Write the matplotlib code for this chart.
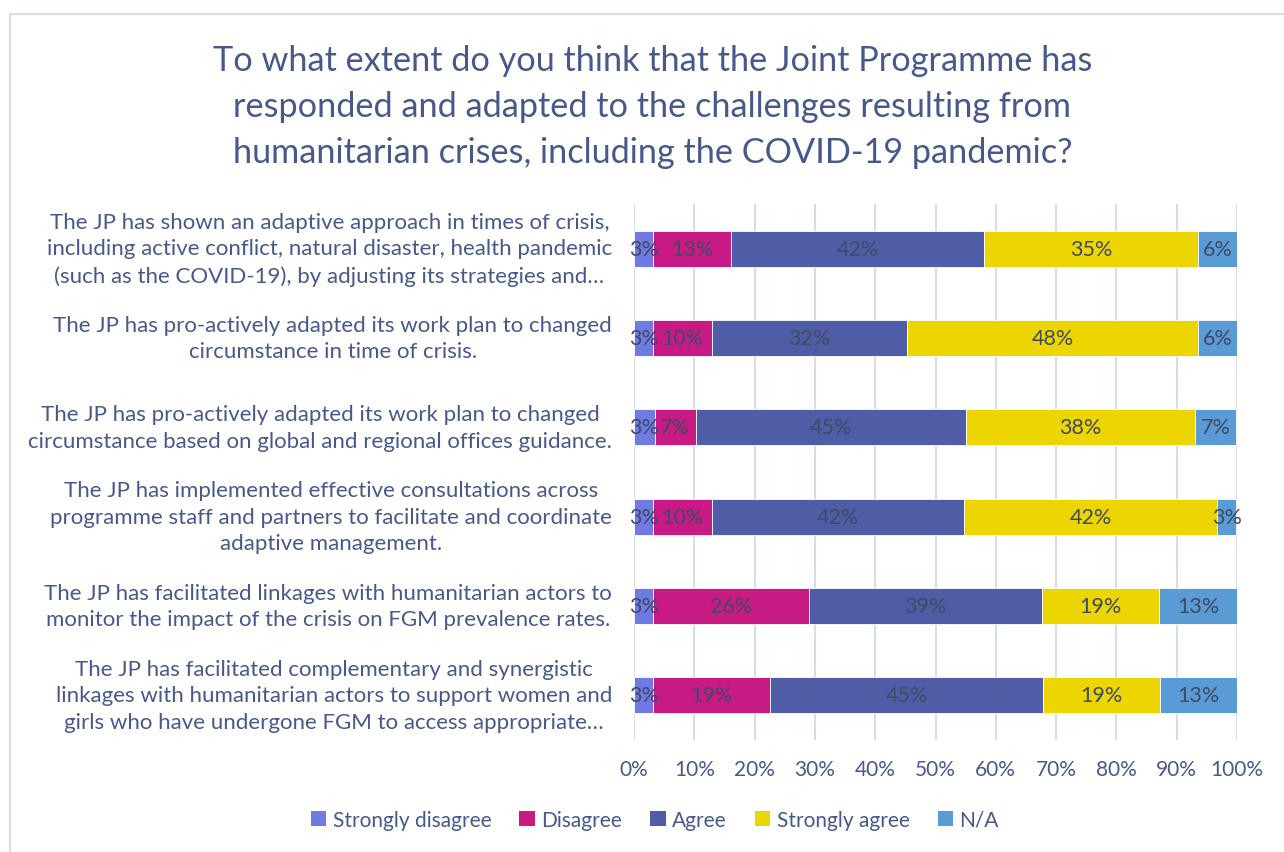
import matplotlib.pyplot as plt
import matplotlib.transforms as mtransforms
from matplotlib.patches import Patch
from matplotlib.lines import Line2D

plt.rcParams["font.family"] = ["Lato", "DejaVu Sans"]

TEXT = "#46598A"
LABEL = "#3F4A63"
GRID = "#D6DCE8"

TITLE = ("To what extent do you think that the Joint Programme has\n"
         "responded and adapted to the challenges resulting from\n"
         "humanitarian crises, including the COVID-19 pandemic?")

statements = [
    "The JP has shown an adaptive approach in times of crisis,\n"
    "including active conflict, natural disaster, health pandemic\n"
    "(such as the COVID-19), by adjusting its strategies and…",
    "The JP has pro-actively adapted its work plan to changed\n"
    "circumstance in time of crisis.",
    "The JP has pro-actively adapted its work plan to changed\n"
    "circumstance based on global and regional offices guidance.",
    "The JP has implemented effective consultations across\n"
    "programme staff and partners to facilitate and coordinate\n"
    "adaptive management.",
    "The JP has facilitated linkages with humanitarian actors to\n"
    "monitor the impact of the crisis on FGM prevalence rates.",
    "The JP has facilitated complementary and synergistic\n"
    "linkages with humanitarian actors to support women and\n"
    "girls who have undergone FGM to access appropriate…",
]

responses = ["Strongly disagree", "Disagree", "Agree", "Strongly agree", "N/A"]
colors = ["#6F7AE2", "#C71A85", "#4F5CA6", "#ECD500", "#5B9BD5"]

# share of respondents (%) per statement, one list per response
strongly_disagree = [3.2, 3.2, 3.4, 3.2, 3.2, 3.2]
disagree = [12.9, 9.7, 6.9, 9.7, 25.8, 19.4]
agree = [42.0, 32.3, 44.8, 41.9, 38.7, 45.2]
strongly_agree = [35.4, 48.4, 37.9, 41.9, 19.4, 19.4]
not_applicable = [6.5, 6.5, 6.9, 3.2, 12.9, 12.9]

series = [strongly_disagree, disagree, agree, strongly_agree, not_applicable]

fig = plt.figure(figsize=(12.84, 8.53), dpi=100)

# chart frame (top and left edges)
fig.add_artist(Line2D([10 / 1284, 1.0], [1 - 15 / 853, 1 - 15 / 853],
                      transform=fig.transFigure, color="#D9DEE6", lw=1.5))
fig.add_artist(Line2D([10 / 1284, 10 / 1284], [0.0, 1 - 15 / 853],
                      transform=fig.transFigure, color="#D9DEE6", lw=1.5))

fig.text(0.508, 1 - 107 / 853, TITLE, ha="center", va="center",
         fontsize=24.7, color=TEXT, linespacing=1.52)

ax = fig.add_axes([634 / 1284, 1 - 741 / 853, 603 / 1284, 536 / 853])

ypos = list(range(len(statements)))
left = [0.0] * len(statements)
for name, vals, col in zip(responses, series, colors):
    bars = ax.barh(ypos, vals, left=left, height=0.405, color=col,
                   edgecolor="white", linewidth=0.6, label=name, zorder=3)
    for b, v in zip(bars, vals):
        ax.text(b.get_x() + b.get_width() / 2, b.get_y() + b.get_height() / 2,
                f"{v:.0f}%", ha="center", va="center", fontsize=15.5,
                color=LABEL, zorder=4)
    left = [l + v for l, v in zip(left, vals)]

ax.set_xlim(0, 100)
ax.set_ylim(len(statements) - 0.5, -0.5)
ax.set_xticks(range(0, 101, 10))
ax.set_xticklabels([f"{t}%" for t in range(0, 101, 10)])
ax.set_yticks(ypos)
ax.set_yticklabels([])

# category labels, centred lines right-aligned to the plot area
lab_tr = mtransforms.blended_transform_factory(ax.transAxes, ax.transData)
for y, s in zip(ypos, statements):
    ax.text(-22 / 603, y, s, transform=lab_tr, ha="right", va="center",
            multialignment="center", linespacing=1.42, fontsize=16,
            color=TEXT)

ax.tick_params(axis="y", length=0)
ax.tick_params(axis="x", length=0, pad=14, labelsize=15, labelcolor=TEXT)
ax.grid(axis="x", color=GRID, linewidth=1.5, zorder=0)
for s in ax.spines.values():
    s.set_visible(False)

handles = [Patch(facecolor=c, label=n) for n, c in zip(responses, colors)]
fig.legend(handles=handles, loc="center", bbox_to_anchor=(0.51, 1 - 821 / 853),
           ncol=5, frameon=False, fontsize=15, labelcolor=TEXT,
           handlelength=0.75, handleheight=0.75, handletextpad=0.3,
           columnspacing=1.35)

fig.savefig("out.png", dpi=100, facecolor="white")
